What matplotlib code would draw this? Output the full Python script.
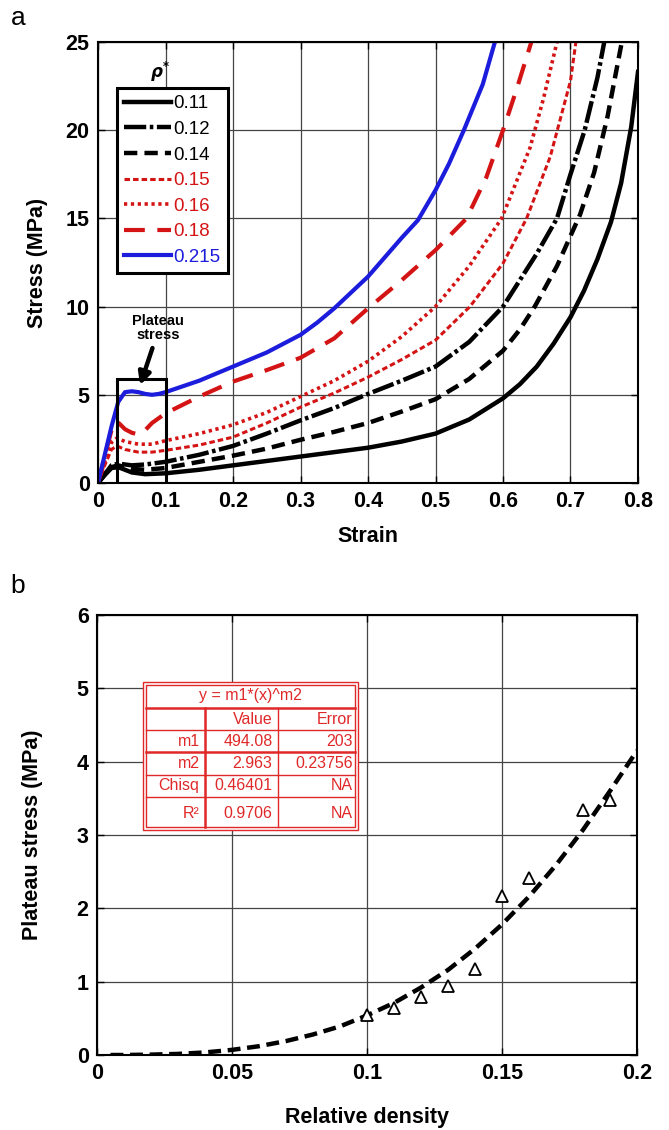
import matplotlib
matplotlib.use("Agg")
import matplotlib.pyplot as plt
from matplotlib.patches import Rectangle

plt.rcParams['font.family'] = ['Liberation Sans', 'DejaVu Sans']
plt.rcParams['font.weight'] = 'bold'

RED = '#d41414'
BLUE = '#1c1cdc'
TABLE_RED = '#e02828'

# ---- panel a: stress-strain curves ----
rho_labels = ['0.11', '0.12', '0.14', '0.15', '0.16', '0.18', '0.215']

strain_011 = [0, 0.01, 0.02, 0.03, 0.05, 0.07, 0.1, 0.15, 0.2, 0.25, 0.3, 0.35, 0.4, 0.45, 0.5,
              0.55, 0.6, 0.625, 0.65, 0.675, 0.7, 0.72, 0.74, 0.76, 0.775, 0.79, 0.8]
stress_011 = [0, 0.45, 0.85, 0.9, 0.6, 0.5, 0.55, 0.75, 1.0, 1.25, 1.5, 1.75, 2.0, 2.35, 2.8,
              3.6, 4.8, 5.6, 6.6, 7.9, 9.4, 10.9, 12.7, 14.8, 17.0, 20.2, 23.3]

strain_012 = [0, 0.01, 0.02, 0.03, 0.05, 0.07, 0.1, 0.15, 0.2, 0.25, 0.3, 0.35, 0.4, 0.45, 0.5,
              0.55, 0.6, 0.65, 0.68, 0.7, 0.721, 0.74, 0.75]
stress_012 = [0, 0.5, 1.0, 1.1, 1.0, 1.05, 1.2, 1.6, 2.1, 2.8, 3.55, 4.25, 5.05, 5.8, 6.6,
              8.0, 10.0, 13.0, 15.0, 17.5, 20.0, 23.0, 25.0]

strain_014 = [0, 0.01, 0.02, 0.03, 0.05, 0.07, 0.1, 0.15, 0.2, 0.25, 0.3, 0.35, 0.4, 0.45, 0.5,
              0.55, 0.6, 0.625, 0.647, 0.68, 0.714, 0.735, 0.755, 0.776]
stress_014 = [0, 0.5, 0.9, 1.0, 0.8, 0.75, 0.85, 1.2, 1.55, 1.95, 2.45, 2.9, 3.4, 4.05, 4.75,
              5.9, 7.5, 8.7, 10.0, 12.3, 15.2, 17.6, 20.8, 25.0]

strain_015 = [0, 0.01, 0.02, 0.028, 0.04, 0.06, 0.08, 0.1, 0.15, 0.2, 0.25, 0.3, 0.35, 0.4, 0.45,
              0.5, 0.551, 0.6, 0.635, 0.67, 0.7, 0.708]
stress_015 = [0, 1.0, 1.9, 2.1, 1.9, 1.75, 1.75, 1.85, 2.15, 2.6, 3.4, 4.3, 5.1, 6.0, 7.0,
              8.1, 10.0, 12.45, 15.0, 18.5, 22.8, 25.0]

strain_016 = [0, 0.01, 0.02, 0.028, 0.04, 0.06, 0.08, 0.1, 0.15, 0.2, 0.25, 0.3, 0.35, 0.4, 0.45,
              0.5, 0.55, 0.598, 0.64, 0.66, 0.68]
stress_016 = [0, 1.2, 2.3, 2.55, 2.35, 2.2, 2.2, 2.4, 2.8, 3.3, 4.0, 4.9, 5.8, 6.9, 8.3,
              10.0, 12.3, 15.0, 19.0, 21.8, 25.0]

strain_018 = [0, 0.01, 0.02, 0.028, 0.04, 0.05, 0.06, 0.07, 0.08, 0.1, 0.15, 0.2, 0.25, 0.3, 0.35,
              0.4, 0.45, 0.5, 0.546, 0.575, 0.6, 0.62, 0.642]
stress_018 = [0, 1.5, 3.0, 3.5, 3.05, 2.85, 2.75, 3.0, 3.4, 3.95, 4.9, 5.75, 6.4, 7.1, 8.2,
              9.9, 11.5, 13.2, 15.0, 17.3, 20.0, 22.3, 25.0]

strain_0215 = [0, 0.01, 0.02, 0.03, 0.04, 0.05, 0.06, 0.07, 0.08, 0.09, 0.1, 0.15, 0.2, 0.25, 0.3,
               0.325, 0.35, 0.4, 0.45, 0.474, 0.5, 0.52, 0.542, 0.57, 0.588]
stress_0215 = [0, 1.6, 3.2, 4.6, 5.15, 5.2, 5.15, 5.05, 5.0, 5.05, 5.15, 5.8, 6.6, 7.4, 8.4,
               9.1, 9.9, 11.7, 13.9, 14.9, 16.6, 18.1, 20.0, 22.6, 25.0]

# plateau box / arrow annotation
box_strain = (0.028, 0.1)
box_stress = 5.9

# ---- panel b: plateau stress vs relative density ----
rel_density = [0.1, 0.11, 0.12, 0.13, 0.14, 0.15, 0.16, 0.18, 0.19]
plateau = [0.55, 0.64, 0.79, 0.94, 1.17, 2.17, 2.41, 3.34, 3.48]

fit_x = [0.005, 0.01, 0.02, 0.03, 0.04, 0.05, 0.06, 0.07, 0.08, 0.09, 0.1, 0.11, 0.12,
         0.13, 0.14, 0.15, 0.16, 0.17, 0.18, 0.19, 0.2]
fit_y = [0.0, 0.0, 0.005, 0.015, 0.035, 0.07, 0.12, 0.19, 0.28, 0.39, 0.54, 0.71, 0.92,
         1.16, 1.45, 1.78, 2.16, 2.59, 3.07, 3.60, 4.15]

table_title = 'y = m1*(x)^m2'
table_header = ['', 'Value', 'Error']
table_rows = [['m1', '494.08', '203'],
              ['m2', '2.963', '0.23756'],
              ['Chisq', '0.46401', 'NA'],
              ['R²', '0.9706', 'NA']]

fig = plt.figure(figsize=(6.69, 11.3), dpi=100)
W, H = 669, 1130
ax1 = fig.add_axes([98 / W, 1 - 483 / H, 540 / W, 441 / H])
ax2 = fig.add_axes([97 / W, 1 - 1055 / H, 540 / W, 440 / H])

for ax in (ax1, ax2):
    ax.grid(True, color='#454545', lw=0.9)
    ax.tick_params(direction='in', top=True, right=True, length=5, width=1,
                   labelsize=15.5, pad=6)
    for sp in ax.spines.values():
        sp.set_linewidth(1.5)

# panel a
l1, = ax1.plot(strain_011, stress_011, color='k', lw=3.2, ls='-')
l2, = ax1.plot(strain_012, stress_012, color='k', lw=3.2, ls=(0, (5, 0.8, 0.8, 0.8)))
l3, = ax1.plot(strain_014, stress_014, color='k', lw=3.2, ls=(0, (3, 1.6)))
l4, = ax1.plot(strain_015, stress_015, color=RED, lw=2.2, ls=(0, (1.8, 1.0)))
l5, = ax1.plot(strain_016, stress_016, color=RED, lw=2.6, ls=(0, (0.9, 1.0)))
l6, = ax1.plot(strain_018, stress_018, color=RED, lw=3.0, ls=(0, (5, 3)))
l7, = ax1.plot(strain_0215, stress_0215, color=BLUE, lw=3.0, ls='-')

ax1.set_xlim(0, 0.8)
ax1.set_ylim(0, 25)
ax1.set_xticks([0, 0.1, 0.2, 0.3, 0.4, 0.5, 0.6, 0.7, 0.8])
ax1.set_xticklabels(['0', '0.1', '0.2', '0.3', '0.4', '0.5', '0.6', '0.7', '0.8'])
ax1.set_yticks([0, 5, 10, 15, 20, 25])
ax1.set_xlabel('Strain', fontsize=15.5, fontweight='bold')
ax1.set_ylabel('Stress (MPa)', fontsize=15.5, fontweight='bold')
ax1.xaxis.set_label_coords(0.5, -0.098)
ax1.yaxis.set_label_coords(-0.092, 0.5)

leg = ax1.legend([l1, l2, l3, l4, l5, l6, l7], rho_labels, loc='upper left',
                 bbox_to_anchor=(0.035, 0.896), borderaxespad=0,
                 handlelength=2.5, handletextpad=0.12, labelspacing=0.45,
                 borderpad=0.4, fancybox=False, framealpha=1,
                 prop={'size': 13.5, 'weight': 'normal'})
leg.get_frame().set_edgecolor('k')
leg.get_frame().set_linewidth(2.2)
for txt, c in zip(leg.get_texts(), ['k', 'k', 'k', RED, RED, RED, BLUE]):
    txt.set_color(c)
ax1.text(0.115, 0.932, r'$\rho^{*}$', transform=ax1.transAxes, fontsize=12,
         ha='center', va='center', fontweight='normal')

ax1.add_patch(Rectangle((box_strain[0], 0), box_strain[1] - box_strain[0], box_stress,
                        fill=False, lw=2.2, ec='k', zorder=5))
ax1.text(0.089, 8.8, 'Plateau\nstress', fontsize=10.5, ha='center', va='center',
         linespacing=1.0)
ax1.annotate('', xy=(0.061, 5.4), xytext=(0.082, 7.8),
             arrowprops=dict(arrowstyle='-|>', lw=3.2, color='k', mutation_scale=18))

# panel b
ax2.plot(fit_x, fit_y, color='k', lw=3.2, ls=(0, (2.9, 1.5)))
ax2.plot(rel_density, plateau, ls='none', marker='^', ms=9, mfc='white', mec='k', mew=1.3)
ax2.set_xlim(0, 0.2)
ax2.set_ylim(0, 6)
ax2.set_xticks([0, 0.05, 0.1, 0.15, 0.2])
ax2.set_xticklabels(['0', '0.05', '0.1', '0.15', '0.2'])
ax2.set_yticks([0, 1, 2, 3, 4, 5, 6])
ax2.set_xlabel('Relative density', fontsize=15.5, fontweight='bold')
ax2.set_ylabel('Plateau stress (MPa)', fontsize=15.5, fontweight='bold')
ax2.xaxis.set_label_coords(0.5, -0.118)
ax2.yaxis.set_label_coords(-0.1, 0.5)

# fit result table
cx = [0.0852, 0.2, 0.3352, 0.4833]
ry = [0.8477, 0.7886, 0.7386, 0.6886, 0.6364, 0.5864, 0.5114]
tr = ax2.transAxes
ax2.add_patch(Rectangle((cx[0], ry[-1]), cx[-1] - cx[0], ry[0] - ry[-1], transform=tr,
                        fc='white', ec=TABLE_RED, lw=1.0, zorder=6))
d = 0.006
ax2.add_patch(Rectangle((cx[0] + d, ry[-1] + d * 1.23), cx[-1] - cx[0] - 2 * d,
                        ry[0] - ry[-1] - 2 * d * 1.23, transform=tr,
                        fill=False, ec=TABLE_RED, lw=1.0, zorder=7))
for i, y in enumerate(ry[1:-1], start=1):
    lw = 1.8 if i in (1, 3) else 1.0
    ax2.plot([cx[0] + d, cx[-1] - d], [y, y], transform=tr, color=TABLE_RED, lw=lw, zorder=7)
for j, x in enumerate(cx[1:-1], start=1):
    lw = 1.8 if j == 1 else 1.0
    ax2.plot([x, x], [ry[1], ry[-1] + d * 1.23], transform=tr, color=TABLE_RED, lw=lw, zorder=7)

tkw = dict(transform=tr, color=TABLE_RED, fontsize=11.5, fontweight='normal', zorder=8)
ax2.text((cx[0] + cx[-1]) / 2, (ry[0] + ry[1]) / 2, table_title, ha='center', va='center', **tkw)
pad = 0.01
for j, h in enumerate(table_header):
    ax2.text(cx[j + 1] - pad, (ry[1] + ry[2]) / 2, h, ha='right', va='center', **tkw)
for i, row in enumerate(table_rows):
    for j, val in enumerate(row):
        ax2.text(cx[j + 1] - pad, (ry[i + 2] + ry[i + 3]) / 2, val, ha='right', va='center', **tkw)

fig.text(18 / W, 1 - 18 / H, 'a', fontsize=19, ha='center', va='center', fontweight='normal')
fig.text(18 / W, 1 - 586 / H, 'b', fontsize=19, ha='center', va='center', fontweight='normal')

fig.savefig('out.png', dpi=100)
